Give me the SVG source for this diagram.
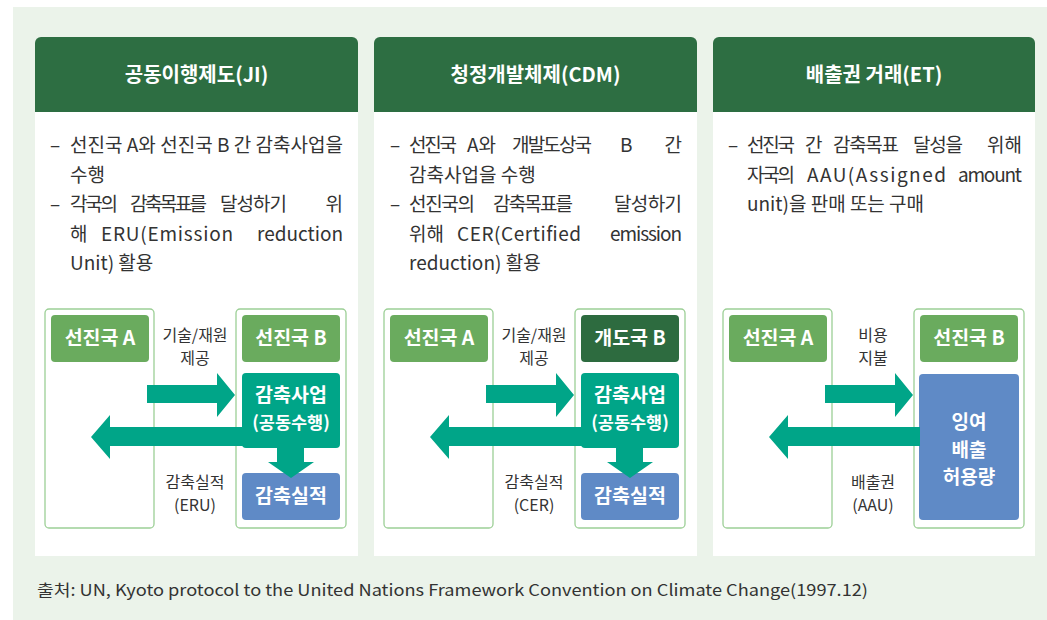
<svg xmlns="http://www.w3.org/2000/svg" width="1047" height="620" viewBox="0 0 1047 620">
<style>
text{font-family:"Noto Sans CJK KR","Noto Sans",sans-serif;}
.hdr{fill:#2d6e42;}
.body{fill:#ffffff;}
.htxt{fill:#fff;font-size:20px;font-weight:bold;text-anchor:middle;}
.btxt{fill:#333;font-size:19px;}
.end{text-anchor:end;}
.outer{fill:#fff;stroke:#9ccf96;stroke-width:1.3;}
.lg{fill:#6aab5e;}
.dg{fill:#2d6b3f;}
.teal{fill:#00a588;}
.blue{fill:#5f8ac6;}
.ltxt{fill:#fff;font-size:19.5px;font-weight:bold;text-anchor:middle;}
.mtxt{fill:#fff;font-size:19px;font-weight:bold;text-anchor:middle;}
.stxt{fill:#fff;font-size:17.5px;font-weight:bold;text-anchor:middle;}
.atxt{fill:#333;font-size:16px;text-anchor:middle;}
.arrow{fill:#00a588;}
</style>
<rect x="13" y="7" width="1034" height="613" fill="#ebf3ea"/>

<!-- Panel 1 -->
<g id="panel-ji">
<path class="hdr" d="M35,112 V43 a6,6 0 0 1 6,-6 H352 a6,6 0 0 1 6,6 V112 Z"/>
<rect class="body" x="35" y="112" width="323" height="444"/>
<text class="htxt" x="196.5" y="82">공동이행제도(JI)</text>
<text class="btxt" x="50" y="152">–</text>
<text class="btxt" x="70" y="152" textLength="273" lengthAdjust="spacing">선진국 A와 선진국 B 간 감축사업을</text>
<text class="btxt" x="70" y="182">수행</text>
<text class="btxt" x="50" y="211">–</text>
<text class="btxt" x="70" y="211" textLength="48" lengthAdjust="spacing">각국의</text>
<text class="btxt" x="130" y="211" textLength="77" lengthAdjust="spacing">감축목표를</text>
<text class="btxt" x="220" y="211" textLength="67" lengthAdjust="spacing">달성하기</text>
<text class="btxt end" x="343" y="211">위</text>
<text class="btxt" x="70" y="241">해</text>
<text class="btxt" x="101" y="241" textLength="132" lengthAdjust="spacing">ERU(Emission</text>
<text class="btxt" x="257" y="241" textLength="86" lengthAdjust="spacing">reduction</text>
<text class="btxt" x="70" y="270">Unit) 활용</text>
</g>
<g id="ji-country-a">
<rect class="outer" x="45" y="309" width="109" height="219" rx="4"/>
<rect class="lg" x="51" y="315" width="98" height="47" rx="4"/>
<text class="ltxt" x="100" y="345">선진국 A</text>
</g>
<g id="ji-country-b">
<rect class="outer" x="236" y="309" width="110" height="219" rx="4"/>
<rect class="lg" x="242" y="315" width="98" height="47" rx="4"/>
<text class="ltxt" x="291" y="345">선진국 B</text>
</g>
<g id="ji-project">
<rect class="teal" x="242" y="373" width="98" height="75" rx="4"/>
<text class="ltxt" x="291" y="402">감축사업</text>
<text class="stxt" x="291" y="429">(공동수행)</text>
</g>
<g id="ji-result">
<rect class="blue" x="242" y="473" width="98" height="47" rx="4"/>
<text class="ltxt" x="291" y="503">감축실적</text>
</g>

<!-- Panel 2 -->
<g id="panel-cdm">
<path class="hdr" d="M374,112 V43 a6,6 0 0 1 6,-6 H691 a6,6 0 0 1 6,6 V112 Z"/>
<rect class="body" x="374" y="112" width="323" height="444"/>
<text class="htxt" x="535.5" y="82">청정개발체제(CDM)</text>
<text class="btxt" x="390" y="152">–</text>
<text class="btxt" x="409" y="152" textLength="48" lengthAdjust="spacing">선진국</text>
<text class="btxt" x="467" y="152" textLength="29" lengthAdjust="spacing">A와</text>
<text class="btxt" x="512" y="152" textLength="80" lengthAdjust="spacing">개발도상국</text>
<text class="btxt" x="620" y="152">B</text>
<text class="btxt end" x="682" y="152">간</text>
<text class="btxt" x="409" y="182">감축사업을 수행</text>
<text class="btxt" x="390" y="211">–</text>
<text class="btxt" x="409" y="211" textLength="66" lengthAdjust="spacing">선진국의</text>
<text class="btxt" x="493" y="211" textLength="80" lengthAdjust="spacing">감축목표를</text>
<text class="btxt" x="614" y="211" textLength="68" lengthAdjust="spacing">달성하기</text>
<text class="btxt" x="409" y="241">위해</text>
<text class="btxt" x="457" y="241" textLength="124" lengthAdjust="spacing">CER(Certified</text>
<text class="btxt" x="610" y="241" textLength="72" lengthAdjust="spacing">emission</text>
<text class="btxt" x="409" y="270">reduction) 활용</text>
</g>
<g id="cdm-country-a">
<rect class="outer" x="384" y="309" width="109" height="219" rx="4"/>
<rect class="lg" x="390" y="315" width="98" height="47" rx="4"/>
<text class="ltxt" x="439" y="345">선진국 A</text>
</g>
<g id="cdm-country-b">
<rect class="outer" x="575" y="309" width="110" height="219" rx="4"/>
<rect class="dg" x="581" y="315" width="98" height="47" rx="4"/>
<text class="ltxt" x="630" y="345">개도국 B</text>
</g>
<g id="cdm-project">
<rect class="teal" x="581" y="373" width="98" height="75" rx="4"/>
<text class="ltxt" x="630" y="402">감축사업</text>
<text class="stxt" x="630" y="429">(공동수행)</text>
</g>
<g id="cdm-result">
<rect class="blue" x="581" y="473" width="98" height="47" rx="4"/>
<text class="ltxt" x="630" y="503">감축실적</text>
</g>

<!-- Panel 3 -->
<g id="panel-et">
<path class="hdr" d="M713,112 V43 a6,6 0 0 1 6,-6 H1029 a6,6 0 0 1 6,6 V112 Z"/>
<rect class="body" x="713" y="112" width="322" height="444"/>
<text class="htxt" x="874" y="82">배출권 거래(ET)</text>
<text class="btxt" x="728" y="152">–</text>
<text class="btxt" x="747" y="152" textLength="48" lengthAdjust="spacing">선진국</text>
<text class="btxt" x="805" y="152">간</text>
<text class="btxt" x="833" y="152" textLength="66" lengthAdjust="spacing">감축목표</text>
<text class="btxt" x="913" y="152" textLength="50" lengthAdjust="spacing">달성을</text>
<text class="btxt end" x="1022" y="152">위해</text>
<text class="btxt" x="747" y="182" textLength="48" lengthAdjust="spacing">자국의</text>
<text class="btxt" x="807" y="182" textLength="139" lengthAdjust="spacing">AAU(Assigned</text>
<text class="btxt" x="958" y="182" textLength="64" lengthAdjust="spacing">amount</text>
<text class="btxt" x="747" y="211">unit)을 판매 또는 구매</text>
</g>
<g id="et-country-a">
<rect class="outer" x="723" y="309" width="109" height="219" rx="4"/>
<rect class="lg" x="729" y="315" width="98" height="47" rx="4"/>
<text class="ltxt" x="778" y="345">선진국 A</text>
</g>
<g id="et-country-b">
<rect class="outer" x="914" y="309" width="110" height="219" rx="4"/>
<rect class="lg" x="920" y="315" width="98" height="47" rx="4"/>
<text class="ltxt" x="969" y="345">선진국 B</text>
</g>
<g id="et-surplus">
<rect class="blue" x="919" y="374" width="100" height="146" rx="4"/>
<text class="mtxt" x="969" y="429">잉여</text>
<text class="mtxt" x="969" y="456.5">배출</text>
<text class="mtxt" x="969" y="484">허용량</text>
</g>

<!-- Connectors -->
<g id="connectors">
<polygon class="arrow" points="147,385 217,385 217,373 235,395 217,417 217,403 147,403"/>
<polygon class="arrow" points="243,427 110,427 110,415 91,437 110,459 110,446 243,446"/>
<polygon class="arrow" points="277,447 304,447 304,462 314,462 291,478 268,462 277,462"/>
<text class="atxt" x="195" y="341">기술/재원</text>
<text class="atxt" x="195" y="364">제공</text>
<text class="atxt" x="195" y="488">감축실적</text>
<text class="atxt" x="195" y="511">(ERU)</text>

<polygon class="arrow" points="486,385 556,385 556,373 574,395 556,417 556,403 486,403"/>
<polygon class="arrow" points="582,427 449,427 449,415 430,437 449,459 449,446 582,446"/>
<polygon class="arrow" points="616,447 643,447 643,462 653,462 630,478 607,462 616,462"/>
<text class="atxt" x="534" y="341">기술/재원</text>
<text class="atxt" x="534" y="364">제공</text>
<text class="atxt" x="534" y="488">감축실적</text>
<text class="atxt" x="534" y="511">(CER)</text>

<polygon class="arrow" points="825,385 895,385 895,373 913,395 895,417 895,403 825,403"/>
<polygon class="arrow" points="920,427 788,427 788,415 769,437 788,459 788,446 920,446"/>
<text class="atxt" x="873" y="341">비용</text>
<text class="atxt" x="873" y="364">지불</text>
<text class="atxt" x="873" y="488">배출권</text>
<text class="atxt" x="873" y="511">(AAU)</text>
</g>

<text x="37" y="596" fill="#333" font-size="16" textLength="831" lengthAdjust="spacingAndGlyphs">출처: UN, Kyoto protocol to the United Nations Framework Convention on Climate Change(1997.12)</text>
</svg>
